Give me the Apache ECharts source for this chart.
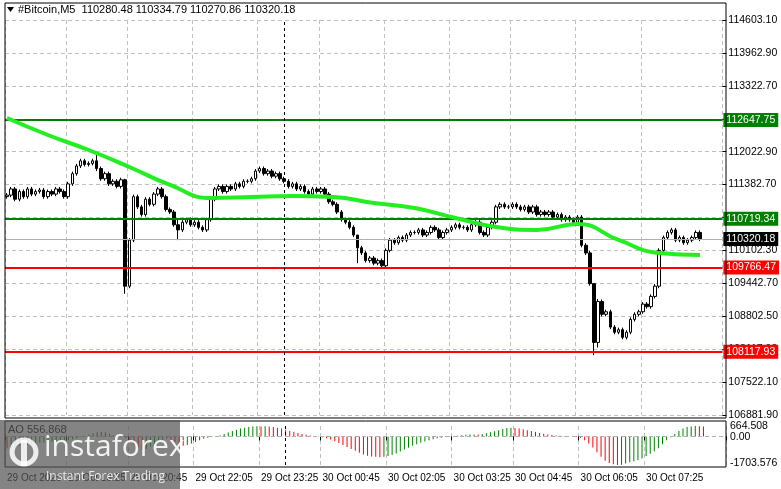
<!DOCTYPE html>
<html>
<head>
<meta charset="utf-8">
<script src="https://cdn.jsdelivr.net/npm/echarts@6/dist/echarts.min.js"></script>
<style>html,body{margin:0;padding:0;background:#fff}#main{width:781px;height:489px}</style>
</head>
<body>
<div id="main"></div>
<script>
// closes of the M5 bars
var closes = [
  111180,111300,111100,111250,111150,111300,111200,111250,111280,111150,
  111250,111200,111300,111250,111150,111400,111600,111750,111850,111780,
  111800,111850,111700,111500,111600,111400,111450,111350,111480,109400,
  110300,111150,110950,110800,111100,111000,111200,111300,111150,110900,
  110850,110600,110500,110650,110700,110600,110650,110550,110500,110700,
  111100,111300,111350,111250,111350,111300,111400,111350,111450,111450,
  111500,111650,111700,111600,111650,111550,111600,111500,111450,111350,
  111400,111300,111350,111250,111200,111300,111250,111300,111200,111050,
  111000,110850,110700,110650,110550,110400,110150,110050,109900,109950,
  109850,109900,109800,110100,110300,110250,110350,110300,110400,110450,
  110450,110500,110400,110450,110550,110500,110350,110450,110500,110550,
  110600,110550,110550,110500,110600,110650,110450,110400,110550,110650,
  110950,111000,110950,110950,111000,110950,110900,110950,110850,110950,
  110800,110850,110800,110850,110750,110800,110700,110750,110700,110650,
  110750,110200,110050,109450,108300,109100,108850,108900,108600,108500,
  108550,108400,108500,108750,108850,108900,109050,109000,109200,109400,
  110100,110350,110450,110500,110300,110350,110250,110300,110350,110450,110320.18
];
var firstOpen = 111150;
// long wicks that stand out (index: [low, high])
var wickOverrides = {22:[111650,112020], 29:[109250,111500], 42:[110300,110700], 86:[109850,110400], 144:[108050,109450], 145:[108200,109150]};
var wickSize = 40;

// moving average, one reading every 10 bars
var maIndex = [0,10,20,30,40,50,60,70,80,90,100,110,120,130,140,150,160,170];
var maValues = [112687,112355,112062,111730,111378,111124,111143,111163,111143,111026,110928,110733,110557,110499,110616,110303,110049,110010];

// Awesome Oscillator
var ao = [
  -750,-700,-650,-600,-580,-520,-480,-450,-400,-380,
  -350,-330,-300,-280,-250,-220,-180,-120,-60,20,
  120,200,260,300,250,150,80,30,-20,-100,
  -300,-550,-750,-850,-800,-650,-500,-350,-250,-150,
  -200,-350,-500,-600,-550,-450,-350,-250,-150,-80,
  -30,20,80,150,250,350,420,500,560,600,
  640,650,640,650,630,600,560,500,420,350,
  280,220,160,100,60,20,-20,-60,-120,-200,
  -300,-420,-550,-680,-800,-920,-1040,-1150,-1230,-1280,
  -1300,-1320,-1300,-1250,-1180,-1080,-960,-840,-720,-600,
  -500,-400,-320,-250,-180,-120,-80,-40,-10,20,
  50,80,100,120,130,120,150,200,260,330,
  400,480,530,560,540,500,450,400,340,280,
  220,170,130,90,60,40,20,10,0,-30,
  -80,-250,-450,-700,-1000,-1300,-1550,-1700,-1780,-1820,
  -1800,-1720,-1650,-1580,-1500,-1400,-1250,-1100,-950,-750,
  -500,-250,-50,150,350,500,600,640,660,650,640
];

var timeLabelIdx = [0,15,30,46,62,77,93,109,124,140,156];
var timeLabels = ['29 Oct 2025','29 Oct 19:25','29 Oct 20:45','29 Oct 22:05','29 Oct 23:25','30 Oct 00:45','30 Oct 02:05','30 Oct 03:25','30 Oct 04:45','30 Oct 06:05','30 Oct 07:25'];
var priceTicks = ['106881.90','107522.10','108117.93','108802.50','109442.70','110102.30','110719.34','111382.70','112022.90','112647.75','113322.70','113962.90','114603.10'];
var levelsGreen = [112647.75, 110719.34];
var levelsRed = [109766.47, 108117.93];
var lastPrice = 110320.18;
var markerIdx = 68;
var totalSlots = 176;

var yMin = 106881.9, yMax = 114603.1, yStep = (yMax - yMin) / 12;

var cats = [];
for (var i = 0; i < totalSlots; i++) cats.push('');
timeLabelIdx.forEach(function(k, n){ cats[k] = timeLabels[n]; });

var candles = [], prev = firstOpen;
closes.forEach(function(c, i){
  var lo = Math.min(prev, c) - wickSize, hi = Math.max(prev, c) + wickSize;
  if (wickOverrides[i]) { lo = wickOverrides[i][0]; hi = wickOverrides[i][1]; }
  candles.push([prev, c, lo, hi]);
  prev = c;
});

var maData = [];
for (var i = 0; i < totalSlots; i++) maData.push(null);
maIndex.forEach(function(k, n){ maData[k] = maValues[n]; });

var aoData = ao.map(function(v, i){
  var up = i == 0 ? false : v > ao[i-1];
  return {value: v, itemStyle: {color: up ? '#008000' : '#ff0000'}};
});

var font = 'Liberation Sans';
var isLabelIdx = function(idx){ return timeLabelIdx.indexOf(idx) >= 0; };

function levelLine(v, color, bg){
  return {yAxis: v, lineStyle: {color: color, width: 2, type: 'solid'},
    label: {show: true, position: 'end', formatter: v.toFixed(2), color: '#fff', backgroundColor: bg,
            padding: [2, 3, 1, 3], fontFamily: font, fontSize: 10.5, distance: 1}};
}

var chart = echarts.init(document.getElementById('main'));
var option = {
  animation: false,
  backgroundColor: '#fff',
  grid: [
    {left: 5, right: 55, top: 20, bottom: 74},
    {left: 5, right: 55, top: 426, bottom: 24}
  ],
  xAxis: [
    {type: 'category', data: cats, gridIndex: 0, boundaryGap: true,
      axisLine: {show: false}, axisTick: {show: false}, axisLabel: {show: false},
      splitLine: {show: true, interval: function(idx){ return isLabelIdx(idx); }, lineStyle: {color: '#c0c0c0', type: [4, 3]}}},
    {type: 'category', data: cats, gridIndex: 1, boundaryGap: true,
      axisLine: {show: false},
      axisTick: {show: true, inside: false, length: 4, interval: function(idx){ return isLabelIdx(idx); }, lineStyle: {color: '#000'}},
      axisLabel: {show: true, interval: function(idx){ return isLabelIdx(idx); }, align: 'left', margin: 8,
        color: '#000', fontFamily: font, fontSize: 10},
      splitLine: {show: true, interval: function(idx){ return isLabelIdx(idx); }, lineStyle: {color: '#c0c0c0', type: [4, 3]}}}
  ],
  yAxis: [
    {type: 'value', gridIndex: 0, position: 'right', min: yMin, max: yMax, interval: yStep,
      axisLine: {show: false}, axisTick: {show: true, length: 4, lineStyle: {color: '#000'}},
      axisLabel: {color: '#000', fontFamily: font, fontSize: 10.5, margin: 6,
        formatter: function(v){ return priceTicks[Math.round((v - yMin) / yStep)] || ''; }},
      splitLine: {show: true, lineStyle: {color: '#c0c0c0', type: [4, 3]}}},
    {type: 'value', gridIndex: 1, position: 'right', min: -1820, max: 664.508,
      axisLine: {show: false}, axisTick: {show: false}, axisLabel: {show: false}, splitLine: {show: false}}
  ],
  series: [
    {type: 'candlestick', xAxisIndex: 0, yAxisIndex: 0, data: candles, barWidth: 3,
      itemStyle: {color: '#fff', color0: '#000', borderColor: '#000', borderColor0: '#000', borderWidth: 1},
      markLine: {symbol: 'none', silent: true, animation: false,
        data: [
          levelLine(levelsGreen[0], '#008000', '#008000'),
          levelLine(levelsGreen[1], '#008000', '#008000'),
          levelLine(levelsRed[0], '#ff0000', '#ff0000'),
          levelLine(levelsRed[1], '#ff0000', '#ff0000'),
          {yAxis: lastPrice, lineStyle: {color: '#b0b0b0', width: 1, type: 'solid'},
            label: {show: true, position: 'end', formatter: lastPrice.toFixed(2), color: '#fff', backgroundColor: '#000',
              padding: [2, 3, 1, 3], fontFamily: font, fontSize: 10.5, distance: 1}},
          {xAxis: markerIdx, lineStyle: {color: '#000', width: 1, type: [3, 3]}, label: {show: false}}
        ]}},
    {type: 'line', xAxisIndex: 0, yAxisIndex: 0, data: maData, connectNulls: true, smooth: true,
      showSymbol: false, lineStyle: {color: '#22ee22', width: 4}, z: 5},
    {type: 'bar', xAxisIndex: 1, yAxisIndex: 1, data: aoData, barWidth: 1,
      markLine: {symbol: 'none', silent: true, animation: false, label: {show: false},
        data: [
          {yAxis: 0, lineStyle: {color: '#b0b0b0', width: 1, type: [4, 3]}},
          {xAxis: markerIdx, lineStyle: {color: '#000', width: 1, type: [3, 3]}}
        ]}}
  ]
};
chart.setOption(option);

// frames, legends and the watermark
var y0 = chart.convertToPixel({yAxisIndex: 1}, 0);
var yTop = chart.convertToPixel({yAxisIndex: 1}, 664.508);
var yBot = chart.convertToPixel({yAxisIndex: 1}, -1703.576);
var txt = function(x, y, s, size, color, z, family){
  return {type: 'text', left: x, top: y, z: z || 50,
    style: {text: s, fontFamily: family || font, fontSize: size || 11, fill: color || '#000'}};
};
chart.setOption({graphic: [
  {type: 'rect', shape: {x: 5, y: 3, width: 721, height: 415}, style: {fill: 'none', stroke: '#000', lineWidth: 1}, z: 40},
  {type: 'rect', shape: {x: 5, y: 421, width: 721, height: 46}, style: {fill: 'none', stroke: '#000', lineWidth: 1}, z: 40},
  {type: 'polygon', shape: {points: [[7, 7], [14, 7], [10.5, 12]]}, style: {fill: '#000'}, z: 50},
  txt(18, 4, '#Bitcoin,M5  110280.48 110334.79 110270.86 110320.18', 11),
  txt(8, 424, 'AO 556.868', 11),
  txt(730, yTop - 5, '664.508', 10.5),
  txt(730, y0 - 5, '0.00', 10.5),
  txt(730, yBot - 6, '-1703.576', 10.5),
  {type: 'rect', shape: {x: 0, y: 420, width: 180, height: 69}, style: {fill: 'rgba(85,85,85,0.72)'}, z: 60},
  {type: 'circle', shape: {cx: 24, cy: 452, r: 12}, style: {fill: 'none', stroke: 'rgba(255,255,255,0.85)', lineWidth: 5}, z: 61},
  {type: 'rect', shape: {x: 21, y: 440, width: 6, height: 26}, style: {fill: 'rgba(255,255,255,0.85)'}, z: 61},
  txt(44, 432, 'instaforex', 30, 'rgba(255,255,255,0.9)', 62, 'Open Sans'),
  txt(46, 471, 'Instant Forex Trading', 12, 'rgba(255,255,255,0.85)', 62, 'Open Sans')
]});
</script>
</body>
</html>
